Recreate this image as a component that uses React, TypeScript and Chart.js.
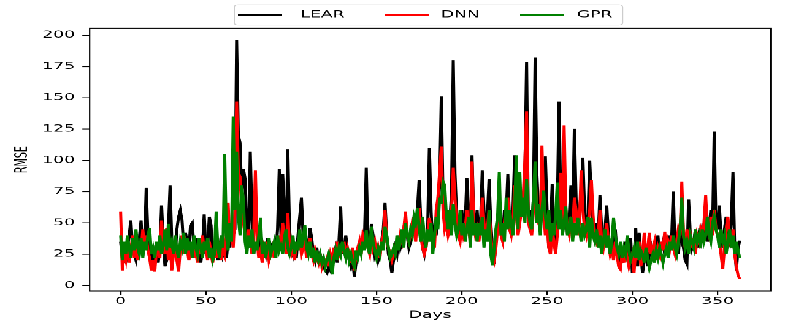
import { useEffect, useRef } from 'react';
import { Chart, registerables } from 'chart.js';

Chart.register(...registerables);

const seriesNames = ['LEAR', 'DNN', 'GPR'];
const seriesColors = ['#000000', '#ff0000', '#008000'];

const lear = [
  35, 22, 28, 18, 30, 40, 52, 30, 25, 20,
  28, 38, 52, 25, 30, 78, 40, 22, 30, 15,
  25, 35, 18, 30, 64, 35, 15, 20, 45, 80,
  35, 28, 25, 45, 55, 60, 52, 30, 42, 35,
  28, 48, 50, 30, 22, 38, 32, 18, 30, 57,
  25, 30, 55, 48, 22, 25, 30, 20, 28, 40,
  25, 30, 22, 35, 30, 50, 40, 45, 196, 120,
  114, 70, 93, 85, 45, 30, 107, 55, 25, 35,
  28, 40, 22, 35, 30, 25, 38, 20, 32, 28,
  35, 25, 45, 93, 40, 89, 60, 30, 109, 45,
  30, 25, 35, 22, 40, 55, 70, 40, 28, 35,
  30, 46, 38, 25, 20, 30, 18, 25, 20, 15,
  12, 10, 15, 12, 20, 25, 30, 18, 35, 63,
  25, 30, 40, 28, 20, 15, 22, 7, 18, 25,
  30, 35, 28, 40, 94, 35, 30, 49, 40, 25,
  30, 20, 25, 35, 45, 66, 40, 25, 20, 10,
  20, 30, 25, 40, 30, 35, 45, 54, 40, 30,
  35, 45, 55, 40, 60, 84, 50, 30, 25, 35,
  45, 110, 60, 30, 45, 40, 60, 80, 151, 70,
  55, 60, 40, 50, 75, 180, 90, 55, 45, 40,
  60, 45, 50, 86, 50, 40, 104, 55, 45, 60,
  40, 50, 92, 60, 45, 55, 85, 50, 30, 17,
  35, 50, 70, 45, 40, 60, 55, 89, 50, 45,
  60, 104, 60, 45, 55, 70, 65, 90, 179, 50,
  60, 45, 70, 182, 90, 60, 45, 70, 55, 103,
  60, 30, 45, 81, 40, 30, 60, 147, 70, 50,
  95, 60, 40, 55, 80, 50, 125, 70, 45, 60,
  75, 102, 60, 40, 55, 100, 70, 45, 35, 50,
  40, 72, 45, 30, 45, 64, 40, 25, 35, 30,
  45, 25, 20, 30, 18, 25, 35, 20, 30, 38,
  10, 20, 46, 15, 42, 25, 10, 20, 30, 15,
  25, 30, 20, 35, 25, 40, 22, 30, 35, 25,
  30, 40, 28, 35, 75, 30, 40, 25, 45, 35,
  30, 20, 17, 69, 40, 30, 35, 45, 30, 40,
  35, 45, 40, 50, 35, 45, 60, 40, 123, 50,
  45, 64, 40, 30, 45, 55, 40, 35, 50, 91,
  30, 12, 30, 36,
];

const dnn = [
  59, 12, 25, 20, 35, 18, 28, 40, 22, 30,
  20, 35, 25, 45, 30, 40, 28, 22, 12, 20,
  11, 28, 35, 22, 52, 30, 25, 46, 20, 35,
  12, 25, 35, 20, 11, 30, 40, 25, 35, 30,
  20, 28, 35, 22, 30, 18, 35, 25, 40, 28,
  30, 20, 35, 25, 18, 30, 22, 35, 28, 20,
  30, 25, 40, 66, 35, 45, 30, 60, 147, 90,
  87, 60, 50, 40, 30, 45, 35, 25, 40, 92,
  35, 22, 28, 18, 30, 25, 35, 20, 25, 30,
  22, 35, 28, 40, 30, 50, 35, 25, 58, 30,
  25, 30, 20, 35, 28, 40, 25, 30, 35, 22,
  30, 38, 25, 20, 28, 22, 18, 25, 15, 20,
  18, 22, 15, 25, 20, 30, 22, 35, 25, 30,
  28, 35, 22, 30, 25, 18, 30, 12, 25, 30,
  35, 25, 40, 35, 38, 30, 25, 40, 30, 35,
  25, 30, 22, 35, 40, 60, 35, 30, 25, 20,
  25, 30, 35, 28, 40, 35, 45, 59, 40, 35,
  40, 50, 45, 35, 55, 62, 40, 30, 25, 30,
  40, 54, 45, 35, 30, 60, 70, 90, 111, 60,
  45, 50, 40, 45, 60, 94, 70, 50, 40, 35,
  50, 40, 45, 60, 45, 35, 99, 50, 40, 45,
  35, 45, 70, 50, 40, 45, 60, 40, 25, 20,
  30, 45, 55, 40, 35, 50, 45, 70, 45, 40,
  50, 80, 55, 40, 50, 60, 70, 100, 139, 50,
  45, 40, 60, 90, 60, 50, 45, 112, 60, 40,
  50, 30, 25, 45, 35, 25, 40, 60, 90, 50,
  128, 60, 45, 40, 55, 45, 70, 60, 40, 50,
  92, 60, 45, 40, 50, 60, 84, 55, 40, 35,
  40, 60, 35, 30, 40, 50, 35, 25, 30, 20,
  35, 25, 15, 13, 25, 18, 30, 22, 15, 20,
  25, 10, 30, 20, 35, 15, 25, 42, 20, 30,
  42, 25, 30, 35, 20, 30, 25, 35, 28, 43,
  25, 35, 30, 40, 30, 25, 35, 45, 40, 83,
  40, 30, 45, 35, 40, 30, 38, 25, 40, 35,
  45, 40, 50, 72, 45, 40, 55, 40, 60, 45,
  40, 35, 25, 13, 30, 45, 55, 40, 30, 45,
  25, 15, 8, 5,
];

const gpr = [
  40, 20, 35, 25, 40, 30, 22, 38, 28, 45,
  30, 25, 38, 22, 35, 28, 40, 46, 25, 30,
  22, 35, 28, 40, 25, 32, 45, 28, 49, 30,
  35, 25, 40, 28, 22, 35, 30, 42, 25, 38,
  28, 35, 22, 40, 30, 25, 38, 30, 22, 35,
  28, 38, 22, 30, 20, 25, 59, 30, 22, 40,
  30, 105, 40, 28, 50, 35, 135, 60, 107, 55,
  40, 80, 67, 35, 25, 40, 30, 45, 25, 35,
  28, 40, 54, 25, 35, 22, 30, 38, 25, 30,
  35, 22, 40, 28, 32, 25, 38, 45, 30, 25,
  30, 40, 25, 35, 28, 45, 30, 38, 48, 30,
  25, 35, 22, 30, 18, 28, 20, 25, 18, 22,
  15, 20, 25, 18, 9, 22, 28, 20, 30, 25,
  35, 28, 22, 30, 20, 25, 18, 15, 28, 22,
  30, 25, 35, 28, 44, 30, 25, 47, 35, 28,
  22, 30, 25, 35, 28, 47, 40, 30, 22, 25,
  30, 25, 40, 28, 35, 45, 30, 50, 40, 35,
  45, 40, 55, 50, 62, 45, 35, 55, 40, 30,
  45, 35, 50, 25, 40, 55, 45, 70, 65, 83,
  80, 55, 45, 60, 40, 65, 50, 40, 45, 60,
  40, 50, 35, 45, 55, 30, 60, 40, 50, 35,
  50, 40, 55, 30, 45, 35, 60, 25, 16, 30,
  45, 55, 91, 40, 50, 35, 70, 45, 60, 50,
  40, 60, 104, 45, 91, 55, 70, 50, 85, 60,
  50, 45, 70, 99, 50, 65, 40, 60, 76, 55,
  45, 60, 35, 50, 40, 55, 82, 45, 60, 40,
  50, 63, 40, 45, 55, 35, 50, 40, 54, 45,
  35, 50, 40, 45, 55, 30, 54, 40, 35, 45,
  30, 40, 25, 35, 45, 30, 40, 25, 35, 54,
  40, 30, 25, 35, 22, 30, 25, 40, 28, 20,
  25, 30, 22, 35, 20, 28, 25, 18, 30, 22,
  14, 20, 25, 18, 28, 22, 30, 25, 18, 25,
  30, 22, 35, 28, 40, 30, 25, 35, 45, 70,
  40, 30, 35, 25, 40, 35, 30, 45, 35, 40,
  30, 45, 35, 40, 55, 40, 35, 50, 55, 45,
  40, 30, 45, 35, 40, 25, 35, 45, 30, 40,
  25, 35, 28, 22,
];

const days = lear.map((_, i) => i);
const xTickValues = [0, 50, 100, 150, 200, 250, 300, 350];
const yTickValues = [0, 25, 50, 75, 100, 125, 150, 175, 200];
const xTitle = 'Days';
const yTitle = 'RMSE';

// logical drawing size (stretched to 785x328 on screen)
const W = 640;
const H = 480;
const SX = 785 / W;
const SY = 328 / H;
const FONT = '"DejaVu Sans", sans-serif';

export default function App() {
  const ref = useRef<HTMLCanvasElement>(null);

  useEffect(() => {
    document.body.style.margin = '0';
    document.body.style.overflow = 'hidden';
    const canvas = ref.current;
    if (!canvas) return;

    const seriesData = [lear, dnn, gpr];
    const all = ([] as number[]).concat(...seriesData);
    const yMin = Math.min(...all);
    const yMax = Math.max(...all);
    const ym = (yMax - yMin) * 0.05;
    const xMin = days[0];
    const xMax = days[days.length - 1];
    const xm = (xMax - xMin) * 0.05;

    const framePlugin = {
      id: 'frame',
      afterDatasetsDraw(chart: any) {
        const { ctx, chartArea } = chart;
        ctx.save();
        ctx.strokeStyle = '#000';
        ctx.lineWidth = 1.1;
        ctx.strokeRect(chartArea.left, chartArea.top, chartArea.right - chartArea.left, chartArea.bottom - chartArea.top);
        ctx.restore();
      },
    };

    const legendPlugin = {
      id: 'mplLegend',
      afterDraw(chart: any) {
        const ctx = chart.ctx;
        ctx.save();
        const bx = 191, by = 7.3, bw = 316.6, bh = 29.3;
        ctx.beginPath();
        ctx.roundRect(bx, by, bw, bh, 3);
        ctx.fillStyle = 'rgba(255,255,255,0.8)';
        ctx.fill();
        ctx.strokeStyle = '#cccccc';
        ctx.lineWidth = 1;
        ctx.stroke();
        const lineStarts = [194, 314, 424];
        const textStarts = [245, 359.4, 470.3];
        const cy = 22;
        ctx.font = `14px ${FONT}`;
        ctx.textBaseline = 'middle';
        ctx.textAlign = 'left';
        seriesNames.forEach((name, i) => {
          ctx.beginPath();
          ctx.moveTo(lineStarts[i], cy);
          ctx.lineTo(lineStarts[i] + 36, cy);
          ctx.strokeStyle = seriesColors[i];
          ctx.lineWidth = 2;
          ctx.stroke();
          ctx.fillStyle = '#000';
          ctx.fillText(name, textStarts[i], cy);
        });
        ctx.restore();
      },
    };

    const tickFont = { family: FONT, size: 14 };

    const chart = new Chart(canvas, {
      type: 'line',
      data: {
        datasets: seriesData.map((arr, i) => ({
          label: seriesNames[i],
          data: days.map((d, j) => ({ x: d, y: arr[j] })),
          borderColor: seriesColors[i],
          backgroundColor: seriesColors[i],
          borderWidth: 2.5,
          pointRadius: 0,
          tension: 0,
          fill: false,
          order: 2 - i,
        })),
      },
      options: {
        responsive: false,
        animation: false,
        devicePixelRatio: 2,
        layout: { padding: { left: 0, right: 11.6, top: 41.4, bottom: 0 } },
        plugins: { legend: { display: false }, tooltip: { enabled: false } },
        scales: {
          x: {
            type: 'linear',
            min: xMin - xm,
            max: xMax + xm,
            afterBuildTicks: (s: any) => { s.ticks = xTickValues.map((v) => ({ value: v })); },
            afterFit: (s: any) => { s.height = 54; },
            ticks: { autoSkip: false, maxRotation: 0, color: '#000', font: tickFont, padding: 1 },
            grid: { display: true, drawOnChartArea: false, drawTicks: true, tickLength: 6, color: '#000', lineWidth: 1.1 },
            border: { display: false },
            title: { display: true, text: xTitle, color: '#000', font: tickFont, padding: { top: 0, bottom: 10 } },
          },
          y: {
            type: 'linear',
            min: yMin - ym,
            max: yMax + ym,
            afterBuildTicks: (s: any) => { s.ticks = yTickValues.map((v) => ({ value: v })); },
            afterFit: (s: any) => { s.width = 73.1; },
            ticks: { autoSkip: false, color: '#000', font: tickFont, padding: 6 },
            grid: { display: true, drawOnChartArea: false, drawTicks: true, tickLength: 6, color: '#000', lineWidth: 1.1 },
            border: { display: false },
            title: { display: true, text: yTitle, color: '#000', font: tickFont, padding: { top: 10, bottom: 0 } },
          },
        },
      },
      plugins: [framePlugin, legendPlugin],
    } as any);

    return () => chart.destroy();
  }, []);

  return (
    <div
      style={{
        position: 'fixed',
        left: 0,
        top: 0,
        width: W,
        height: H,
        transform: `scale(${SX}, ${SY})`,
        transformOrigin: '0 0',
        background: '#fff',
      }}
    >
      <canvas ref={ref} width={W} height={H} style={{ width: `${W}px`, height: `${H}px`, display: 'block' }} />
    </div>
  );
}
